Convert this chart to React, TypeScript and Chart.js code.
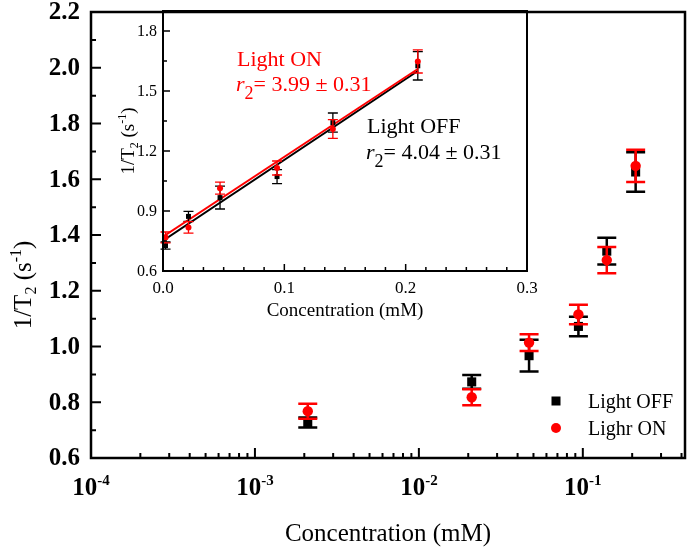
import React, { useEffect, useRef } from 'react';
import { Chart, registerables } from 'chart.js';

Chart.register(...registerables);

const SERIF = '"Liberation Serif", "Times New Roman", serif';

// ---- data ----
const concentrations = [0.0021, 0.021, 0.047, 0.094, 0.14, 0.21];
const lightOffValues = [0.727, 0.873, 0.967, 1.072, 1.342, 1.626];
const lightOffErrors = [0.018, 0.025, 0.057, 0.035, 0.048, 0.071];
const lightOnValues = [0.768, 0.818, 1.014, 1.115, 1.31, 1.648];
const lightOnErrors = [0.027, 0.029, 0.03, 0.035, 0.047, 0.058];

const fitConcentrations = [0, 0.21];
const lightOffFit = [0.752, 1.6];
const lightOnFit = [0.772, 1.61];

const seriesLabels = ['Light OFF', 'Lighr ON'];

// ---- ticks ----
const mainYTicks = [0.6, 0.8, 1.0, 1.2, 1.4, 1.6, 1.8, 2.0, 2.2];
const mainYMinorTicks = [0.7, 0.9, 1.1, 1.3, 1.5, 1.7, 1.9, 2.1];
const mainXTicks = [1e-4, 1e-3, 1e-2, 1e-1];
const mainXTickExponents = ['-4', '-3', '-2', '-1'];
const minorMultipliers = [2, 3, 4, 5, 6, 7, 8, 9];
const insetXTicks = [0, 0.1, 0.2, 0.3];
const insetXMinorStep = 0.1 / 6;
const insetYTicks = [0.6, 0.9, 1.2, 1.5, 1.8];
const insetYMinorTicks = [0.75, 1.05, 1.35, 1.65];

type Part = { t: string; font: string; dy?: number };

function drawParts(ctx: CanvasRenderingContext2D, parts: Part[], x: number, y: number, align: 'left' | 'center' | 'right') {
  let w = 0;
  for (const p of parts) {
    ctx.font = p.font;
    w += ctx.measureText(p.t).width;
  }
  let cx = align === 'left' ? x : align === 'center' ? x - w / 2 : x - w;
  ctx.textAlign = 'left';
  for (const p of parts) {
    ctx.font = p.font;
    ctx.fillText(p.t, cx, y + (p.dy || 0));
    cx += ctx.measureText(p.t).width;
  }
}

const errorBarPlugin = {
  id: 'errorBars',
  beforeDatasetDraw(chart: any, args: any) {
    const ds = chart.data.datasets[args.index];
    if (!ds.errors) return;
    const { ctx } = chart;
    const yScale = chart.scales.y;
    ctx.save();
    ctx.strokeStyle = ds.errorColor;
    ctx.lineWidth = ds.errorWidth;
    ctx.beginPath();
    args.meta.data.forEach((el: any, i: number) => {
      const v = ds.data[i].y;
      const e = ds.errors[i];
      const top = yScale.getPixelForValue(v + e);
      const bot = yScale.getPixelForValue(v - e);
      const x = el.x;
      const c = ds.capHalf;
      ctx.moveTo(x, top);
      ctx.lineTo(x, bot);
      ctx.moveTo(x - c, top);
      ctx.lineTo(x + c, top);
      ctx.moveTo(x - c, bot);
      ctx.lineTo(x + c, bot);
    });
    ctx.stroke();
    ctx.restore();
  },
};

function points(xs: number[], ys: number[]) {
  return xs.map((x, i) => ({ x, y: ys[i] }));
}

const mainDecor = {
  id: 'mainDecor',
  afterDraw(chart: any) {
    const { ctx, chartArea: a, scales } = chart;
    const xs = scales.x;
    const ys = scales.y;
    ctx.save();
    ctx.fillStyle = '#000';
    ctx.strokeStyle = '#000';
    ctx.lineWidth = 2;
    ctx.beginPath();
    mainYTicks.forEach((v) => {
      const p = ys.getPixelForValue(v);
      ctx.moveTo(a.left, p);
      ctx.lineTo(a.left + 10, p);
    });
    mainYMinorTicks.forEach((v) => {
      const p = ys.getPixelForValue(v);
      ctx.moveTo(a.left, p);
      ctx.lineTo(a.left + 5, p);
    });
    mainXTicks.forEach((v) => {
      const p = xs.getPixelForValue(v);
      ctx.moveTo(p, a.bottom);
      ctx.lineTo(p, a.bottom - 10);
      minorMultipliers.forEach((m) => {
        const mv = v * m;
        if (mv < xs.max) {
          const mp = xs.getPixelForValue(mv);
          ctx.moveTo(mp, a.bottom);
          ctx.lineTo(mp, a.bottom - 5);
        }
      });
    });
    ctx.stroke();
    ctx.lineWidth = 2.5;
    ctx.strokeRect(a.left, a.top, a.right - a.left, a.bottom - a.top);

    ctx.font = `bold 25px ${SERIF}`;
    ctx.textAlign = 'right';
    ctx.textBaseline = 'middle';
    mainYTicks.forEach((v) => {
      ctx.fillText(v.toFixed(1), a.left - 11, ys.getPixelForValue(v) + 1);
    });
    ctx.textBaseline = 'alphabetic';
    mainXTicks.forEach((v, i) => {
      drawParts(
        ctx,
        [
          { t: '10', font: `bold 25px ${SERIF}` },
          { t: mainXTickExponents[i], font: `bold 15px ${SERIF}`, dy: -10 },
        ],
        xs.getPixelForValue(v),
        495,
        'center'
      );
    });
    ctx.font = `25px ${SERIF}`;
    ctx.textAlign = 'center';
    ctx.fillText('Concentration (mM)', (a.left + a.right) / 2, 541);
    ctx.save();
    ctx.translate(31, 285);
    ctx.rotate(-Math.PI / 2);
    drawParts(
      ctx,
      [
        { t: '1/T', font: `25px ${SERIF}` },
        { t: '2', font: `16px ${SERIF}`, dy: 5 },
        { t: ' (s', font: `25px ${SERIF}` },
        { t: '-1', font: `16px ${SERIF}`, dy: -10 },
        { t: ')', font: `25px ${SERIF}` },
      ],
      0,
      0,
      'center'
    );
    ctx.restore();

    // legend
    ctx.fillStyle = '#000';
    ctx.fillRect(556 - 4.5, 401 - 4.5, 9, 9);
    ctx.fillStyle = '#ff0000';
    ctx.beginPath();
    ctx.arc(556, 428, 5, 0, Math.PI * 2);
    ctx.fill();
    ctx.fillStyle = '#000';
    ctx.font = `20px ${SERIF}`;
    ctx.textAlign = 'left';
    ctx.textBaseline = 'alphabetic';
    ctx.fillText(seriesLabels[0], 588, 408);
    ctx.fillText(seriesLabels[1], 588, 435);
    ctx.restore();
  },
};

const insetDecor = {
  id: 'insetDecor',
  afterDraw(chart: any) {
    const { ctx, chartArea: a, scales } = chart;
    const xs = scales.x;
    const ys = scales.y;
    ctx.save();
    ctx.fillStyle = '#000';
    ctx.strokeStyle = '#000';
    ctx.lineWidth = 1.5;
    ctx.beginPath();
    insetYTicks.forEach((v) => {
      const p = ys.getPixelForValue(v);
      ctx.moveTo(a.left, p);
      ctx.lineTo(a.left + 7, p);
    });
    insetYMinorTicks.forEach((v) => {
      const p = ys.getPixelForValue(v);
      ctx.moveTo(a.left, p);
      ctx.lineTo(a.left + 4, p);
    });
    for (let k = 0; k <= 18; k++) {
      const v = k * insetXMinorStep;
      const p = xs.getPixelForValue(v);
      const major = k % 6 === 0;
      ctx.moveTo(p, a.bottom);
      ctx.lineTo(p, a.bottom - (major ? 7 : 4));
    }
    ctx.stroke();
    ctx.lineWidth = 2;
    ctx.strokeRect(a.left, a.top, a.right - a.left, a.bottom - a.top);

    ctx.font = `16px ${SERIF}`;
    ctx.textAlign = 'right';
    ctx.textBaseline = 'middle';
    insetYTicks.forEach((v) => {
      ctx.fillText(v.toFixed(1), a.left - 6, ys.getPixelForValue(v) + 1);
    });
    ctx.font = `17px ${SERIF}`;
    ctx.textAlign = 'center';
    ctx.textBaseline = 'alphabetic';
    insetXTicks.forEach((v) => {
      ctx.fillText(v.toFixed(1), xs.getPixelForValue(v), 293);
    });
    ctx.font = `19px ${SERIF}`;
    ctx.fillText('Concentration (mM)', (a.left + a.right) / 2, 316);

    ctx.save();
    ctx.translate(34, (a.top + a.bottom) / 2);
    ctx.rotate(-Math.PI / 2);
    drawParts(
      ctx,
      [
        { t: '1/T', font: `19px ${SERIF}` },
        { t: '2', font: `12px ${SERIF}`, dy: 4 },
        { t: ' (s', font: `19px ${SERIF}` },
        { t: '-1', font: `12px ${SERIF}`, dy: -8 },
        { t: ')', font: `19px ${SERIF}` },
      ],
      0,
      0,
      'center'
    );
    ctx.restore();

    // annotations (inset canvas is offset 100px to the right)
    ctx.fillStyle = '#ff0000';
    ctx.font = `22px ${SERIF}`;
    ctx.textAlign = 'left';
    ctx.fillText('Light ON', 137, 66);
    drawParts(
      ctx,
      [
        { t: 'r', font: `italic 22px ${SERIF}` },
        { t: '2', font: `18px ${SERIF}`, dy: 8 },
        { t: '= 3.99 ± 0.31', font: `22px ${SERIF}` },
      ],
      136,
      91,
      'left'
    );
    ctx.fillStyle = '#000';
    ctx.font = `22px ${SERIF}`;
    ctx.fillText('Light OFF', 267, 133);
    drawParts(
      ctx,
      [
        { t: 'r', font: `italic 22px ${SERIF}` },
        { t: '2', font: `18px ${SERIF}`, dy: 8 },
        { t: '= 4.04 ± 0.31', font: `22px ${SERIF}` },
      ],
      266,
      159,
      'left'
    );
    ctx.restore();
  },
};

function hiddenAxis(extra: any, size: { w?: number; h?: number }) {
  return {
    ...extra,
    ticks: { display: false },
    grid: { display: false, drawTicks: false },
    border: { display: false },
    afterFit: (s: any) => {
      if (size.w !== undefined) s.width = size.w;
      if (size.h !== undefined) s.height = size.h;
    },
  };
}

export default function App() {
  const mainRef = useRef<HTMLCanvasElement>(null);
  const insetRef = useRef<HTMLCanvasElement>(null);

  useEffect(() => {
    document.body.style.margin = '0';
    const main = new Chart(mainRef.current as HTMLCanvasElement, {
      type: 'scatter',
      data: {
        datasets: [
          {
            label: seriesLabels[0],
            data: points(concentrations, lightOffValues),
            errors: lightOffErrors,
            errorColor: '#000',
            errorWidth: 2.5,
            capHalf: 9.5,
            pointStyle: 'rect',
            pointRadius: 6.4,
            backgroundColor: '#000',
            borderWidth: 0,
            order: 1,
          } as any,
          {
            label: seriesLabels[1],
            data: points(concentrations, lightOnValues),
            errors: lightOnErrors,
            errorColor: '#ff0000',
            errorWidth: 2.5,
            capHalf: 9.5,
            pointStyle: 'circle',
            pointRadius: 5.2,
            backgroundColor: '#ff0000',
            borderWidth: 0,
            order: 0,
          } as any,
        ],
      },
      options: {
        responsive: false,
        animation: false,
        devicePixelRatio: 1,
        events: [],
        layout: { padding: { top: 12, right: 15, left: 0, bottom: 0 } },
        plugins: { legend: { display: false }, tooltip: { enabled: false } },
        scales: {
          x: hiddenAxis({ type: 'logarithmic', min: 1e-4, max: 0.42 }, { h: 90 }),
          y: hiddenAxis({ type: 'linear', min: 0.6, max: 2.2 }, { w: 91 }),
        },
      } as any,
      plugins: [errorBarPlugin, mainDecor],
    });

    const inset = new Chart(insetRef.current as HTMLCanvasElement, {
      type: 'scatter',
      data: {
        datasets: [
          {
            label: 'Light OFF fit',
            data: points(fitConcentrations, lightOffFit),
            showLine: true,
            borderColor: '#000',
            borderWidth: 2,
            pointRadius: 0,
            order: 4,
          },
          {
            label: 'Light ON fit',
            data: points(fitConcentrations, lightOnFit),
            showLine: true,
            borderColor: '#ff0000',
            borderWidth: 2,
            pointRadius: 0,
            order: 3,
          },
          {
            label: seriesLabels[0],
            data: points(concentrations, lightOffValues),
            errors: lightOffErrors,
            errorColor: '#000',
            errorWidth: 1.3,
            capHalf: 5,
            pointStyle: 'rect',
            pointRadius: 3.5,
            backgroundColor: '#000',
            borderWidth: 0,
            order: 2,
          } as any,
          {
            label: seriesLabels[1],
            data: points(concentrations, lightOnValues),
            errors: lightOnErrors,
            errorColor: '#ff0000',
            errorWidth: 1.3,
            capHalf: 5,
            pointStyle: 'circle',
            pointRadius: 3,
            backgroundColor: '#ff0000',
            borderWidth: 0,
            order: 1,
          } as any,
        ],
      },
      options: {
        responsive: false,
        animation: false,
        devicePixelRatio: 1,
        events: [],
        layout: { padding: { top: 11, right: 13, left: 0, bottom: 0 } },
        plugins: { legend: { display: false }, tooltip: { enabled: false } },
        scales: {
          x: hiddenAxis({ type: 'linear', min: 0, max: 0.3 }, { h: 59 }),
          y: hiddenAxis({ type: 'linear', min: 0.6, max: 1.9 }, { w: 63 }),
        },
      } as any,
      plugins: [errorBarPlugin, insetDecor],
    });

    return () => {
      main.destroy();
      inset.destroy();
    };
  }, []);

  return (
    <div style={{ position: 'relative', width: 700, height: 548, background: '#fff', overflow: 'hidden' }}>
      <canvas ref={mainRef} width={700} height={548} style={{ position: 'absolute', left: 0, top: 0 }} />
      <canvas ref={insetRef} width={440} height={330} style={{ position: 'absolute', left: 100, top: 0 }} />
    </div>
  );
}
